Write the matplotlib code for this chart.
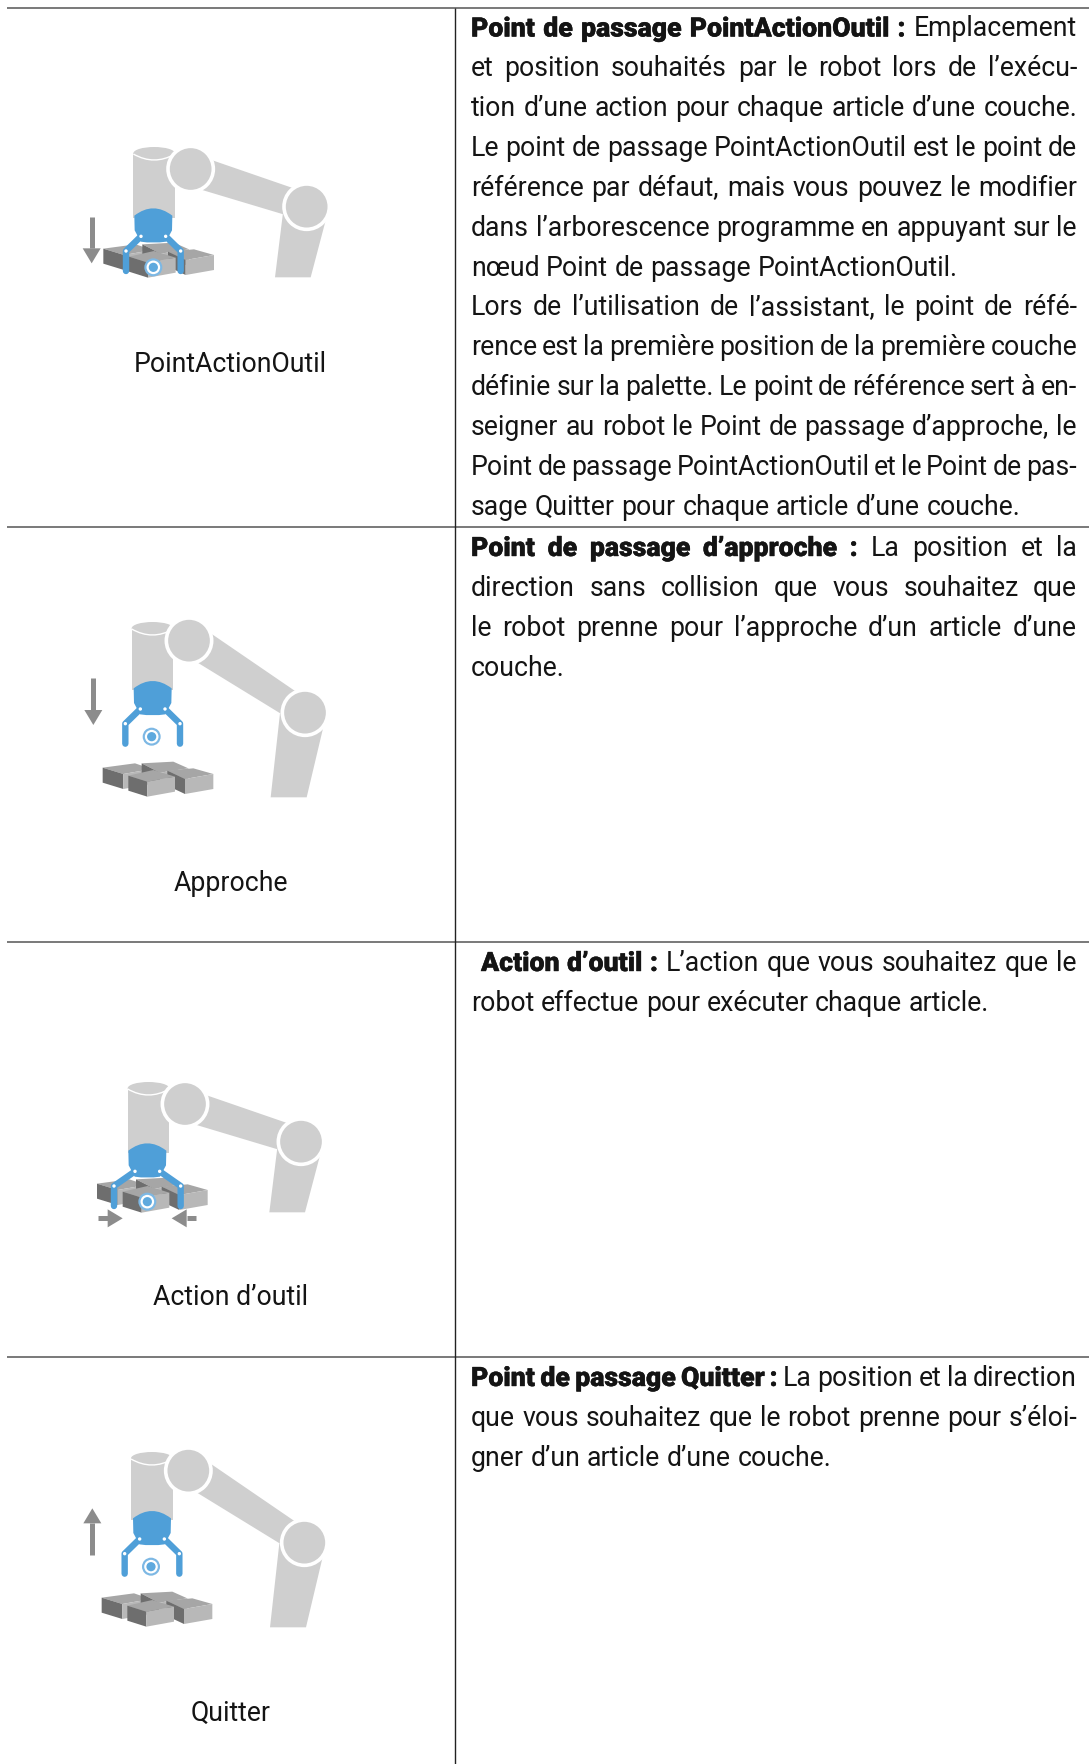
import matplotlib
matplotlib.use('Agg')
import matplotlib.pyplot as plt
import matplotlib.patheffects as pe
from matplotlib.patches import Polygon, Circle, Ellipse, PathPatch
from matplotlib.path import Path

W, H = 1089, 1764
FONT = 'Roboto'
FSIZE = 19.2
LINE_PITCH = 39.85
TEXT_LEFT = 471
TEXT_RIGHT = 1077

# horizontal rules of the table and the column divider
row_tops = [7.5, 527, 942, 1357]
rule_start = 7
col_x = 455.3

labels = ['PointActionOutil', 'Approche', 'Action d\u2019outil', 'Quitter']
label_y = [372, 891, 1305, 1721]

# (bold part, normal part) per line, last line of a cell is not justified
row1_lines = [
    ('Point de passage PointActionOutil :', 'Emplacement'),
    ('', 'et position souhaités par le robot lors de l\u2019exécu-'),
    ('', 'tion d\u2019une action pour chaque article d\u2019une couche.'),
    ('', 'Le point de passage PointActionOutil est le point de'),
    ('', 'référence par défaut, mais vous pouvez le modifier'),
    ('', 'dans l\u2019arborescence programme en appuyant sur le'),
    ('', 'nœud Point de passage PointActionOutil.'),
    ('', 'Lors de l\u2019utilisation de l\u2019assistant, le point de réfé-'),
    ('', 'rence est la première position de la première couche'),
    ('', 'définie sur la palette. Le point de référence sert à en-'),
    ('', 'seigner au robot le Point de passage d\u2019approche, le'),
    ('', 'Point de passage PointActionOutil et le Point de pas-'),
    ('', 'sage Quitter pour chaque article d\u2019une couche.'),
]
row1_not_justified = [6, 12]
row2_lines = [
    ('Point de passage d\u2019approche :', 'La position et la'),
    ('', 'direction sans collision que vous souhaitez que'),
    ('', 'le robot prenne pour l\u2019approche d\u2019un article d\u2019une'),
    ('', 'couche.'),
]
row2_not_justified = [3]
row3_lines = [
    ('Action d\u2019outil :', 'L\u2019action que vous souhaitez que le'),
    ('', 'robot effectue pour exécuter chaque article.'),
]
row3_not_justified = [1]
row4_lines = [
    ('Point de passage Quitter :', 'La position et la direction'),
    ('', 'que vous souhaitez que le robot prenne pour s\u2019éloi-'),
    ('', 'gner d\u2019un article d\u2019une couche.'),
]
row4_not_justified = [2]

# icon outlines, in px*3 relative to each icon's origin
pose_down = dict(
    tower=(220, 345, 100, 295), shoulder=(392, 147), elbow=(740, 260),
    arm=[(440, 115), (730, 215), (700, 292), (410, 205)],
    fore=[(670, 270), (800, 290), (752, 472), (645, 472)],
)
pose_up = dict(
    tower=(215, 340, 85, 270), shoulder=(387, 122), elbow=(735, 338),
    arm=[(445, 95), (730, 290), (690, 358), (400, 180)],
    fore=[(660, 340), (795, 360), (740, 592), (632, 592)],
)
box_quads = [
    # left, back, right, front corners of the top face, height
    ([(128, 503), (225, 490), (275, 507), (190, 522)], 45),
    ([(245, 490), (340, 485), (385, 505), (300, 518)], 45),
    ([(322, 512), (400, 505), (460, 522), (375, 537)], 45),
    ([(205, 527), (280, 510), (345, 530), (262, 545)], 45),
]

GREY = '#cfcfcf'
BLUE = '#4f9fd8'
ARROW = '#8c8c8c'
TXT = '#141414'

plt.rcParams['font.family'] = [FONT, 'DejaVu Sans']
fig = plt.figure(figsize=(W / 100, H / 100), dpi=100)
ax = fig.add_axes([0, 0, 1, 1])
ax.set_xlim(0, W)
ax.set_ylim(H, 0)
ax.axis('off')

for y in row_tops:
    ax.plot([rule_start, W], [y, y], color='#555555', lw=1.1, solid_capstyle='butt')
ax.plot([col_x, col_x], [row_tops[0], H], color='#222222', lw=1.0, solid_capstyle='butt')


def justified_line(y, bold, normal, justify, x0=TEXT_LEFT):
    words = [(w, 'black') for w in bold.split()] + [(w, 'normal') for w in normal.split()]
    rend = fig.canvas.get_renderer()
    items = []
    total = 0
    for w, weight in words:
        t = ax.text(0, y, w, fontsize=FSIZE, fontweight=weight, color=TXT, va='baseline', ha='left')
        if weight == 'black':
            # the installed Roboto stops at Bold, thicken it a little
            t.set_path_effects([pe.withStroke(linewidth=0.3, foreground=TXT)])
        wd = t.get_window_extent(rend).width
        items.append((t, wd))
        total += wd
    gap = 6.6
    if justify and len(items) > 1:
        gap = (TEXT_RIGHT - x0 - total) / (len(items) - 1)
    x = x0
    for t, wd in items:
        t.set_x(x)
        x += wd + gap


def draw_cell(top, lines, not_just, x0=TEXT_LEFT):
    for i, (b, n) in enumerate(lines):
        y = top + 29 + i * LINE_PITCH
        justified_line(y, b, n, i not in not_just, x0 if i == 0 else TEXT_LEFT)


draw_cell(row_tops[0], row1_lines, row1_not_justified)
draw_cell(row_tops[1], row2_lines, row2_not_justified)
draw_cell(row_tops[2], row3_lines, row3_not_justified, x0=481)
draw_cell(row_tops[3], row4_lines, row4_not_justified)

for lab, y in zip(labels, label_y):
    ax.text(230.5, y, lab, fontsize=FSIZE, color=TXT, ha='center', va='baseline')


def draw_robot(ox, oy, pose, dx, dy):
    P = lambda x, y: (ox + (x + dx) / 3, oy + (y + dy) / 3)
    l, r, t, b = pose['tower']
    ax.add_patch(Polygon([P(l, t), P(r, t), P(r, b), P(l, b)], fc=GREY, ec='none', zorder=2))
    cx, cy = P((l + r) / 2, t)
    ax.add_patch(Ellipse((cx, cy), (r - l) / 3, 38 / 3, fc=GREY, ec='none', zorder=2))
    # lip of the tower
    ax.add_patch(PathPatch(Path([P(l, t + 2), P((l + r) / 2, t + 38), P(r, t + 2)],
                                [Path.MOVETO, Path.CURVE3, Path.CURVE3]),
                           fc='none', ec='white', lw=1.0, zorder=2.1))
    ax.add_patch(Polygon([P(*p) for p in pose['arm']], fc=GREY, ec='none', zorder=2))
    ax.add_patch(Polygon([P(*p) for p in pose['fore']], fc=GREY, ec='none', zorder=2))
    for c in (pose['shoulder'], pose['elbow']):
        ax.add_patch(Circle(P(*c), 68 / 3, fc=GREY, ec='white', lw=2.6, zorder=3))


def draw_boxes(ox, oy, dx, dy):
    P = lambda x, y: (ox + (x + dx) / 3, oy + (y + dy) / 3)
    for quad, h in box_quads:
        lf, bk, rt, fr = quad
        low = lambda q: (q[0], q[1] + h)
        ax.add_patch(Polygon([P(*q) for q in quad], fc='#a6a6a6', ec='none', zorder=4))
        ax.add_patch(Polygon([P(*lf), P(*fr), P(*low(fr)), P(*low(lf))], fc='#6e6e6e', ec='none', zorder=4))
        ax.add_patch(Polygon([P(*fr), P(*rt), P(*low(rt)), P(*low(fr))], fc='#b8b8b8', ec='none', zorder=4))


def draw_gripper(ox, oy, cx, top, spread, tcp):
    P = lambda x, y: (ox + x / 3, oy + y / 3)
    verts = [P(cx - 57, top + 22), P(cx, top - 22), P(cx + 57, top + 22),
             P(cx + 56, top + 66), P(cx + 38, top + 100), P(cx, top + 106),
             P(cx - 38, top + 100), P(cx - 56, top + 66), P(cx - 57, top + 22)]
    codes = [Path.MOVETO, Path.CURVE3, Path.CURVE3, Path.LINETO, Path.LINETO,
             Path.CURVE3, Path.CURVE3, Path.LINETO, Path.CLOSEPOLY]
    ax.add_patch(PathPatch(Path(verts, codes), fc=BLUE, ec='none', zorder=5))
    for sign in (-1, 1):
        knee = P(cx + sign * spread, top + 128)
        start = P(cx + sign * 37, top + 84)
        end = P(cx + sign * spread, top + 188)
        ax.plot([start[0], knee[0], end[0]], [start[1], knee[1], end[1]], color=BLUE, lw=4.6,
                solid_capstyle='round', solid_joinstyle='round', zorder=5)
        for p in (start, knee):
            ax.add_patch(Circle(p, 1.7, fc='white', ec='none', zorder=6))
    c = P(*tcp)
    ax.add_patch(Circle(c, 9.0, fc='#7db8e4', ec='none', zorder=5))
    ax.add_patch(Circle(c, 6.8, fc='white', ec='none', zorder=5))
    ax.add_patch(Circle(c, 4.6, fc='#5ea9de', ec='none', zorder=5))


def draw_arrow(ox, oy, tail, tip, head_len=45, head_w=27):
    P = lambda x, y: (ox + x / 3, oy + y / 3)
    tx, ty = tail
    hx, hy = tip
    dirx = (hx > tx) - (hx < tx)
    diry = (hy > ty) - (hy < ty)
    bx, by = hx - dirx * head_len, hy - diry * head_len
    a, b = P(tx, ty), P(bx, by)
    ax.plot([a[0], b[0]], [a[1], b[1]], color=ARROW, lw=3.6, solid_capstyle='butt', zorder=6)
    ax.add_patch(Polygon([P(hx, hy), P(bx - diry * head_w, by + dirx * head_w),
                          P(bx + diry * head_w, by - dirx * head_w)], fc=ARROW, ec='none', zorder=6))


# PointActionOutil
draw_robot(60, 120, pose_down, 0, 0)
draw_boxes(60, 120, 2, -117)
draw_gripper(60, 120, 280, 265, 82, (280, 442))
draw_arrow(60, 120, (95, 290), (95, 430))
# Approche
draw_robot(60, 600, pose_up, 0, 0)
draw_boxes(60, 600, 0, 0)
draw_gripper(60, 600, 278, 243, 82, (275, 410))
draw_arrow(60, 600, (100, 235), (100, 375))
# Action d'outil
draw_robot(60, 1060, pose_down, -17, -15)
draw_boxes(60, 1060, -17, -132)
draw_gripper(60, 1060, 262, 250, 100, (262, 425))
draw_arrow(60, 1060, (115, 475), (188, 475))
draw_arrow(60, 1060, (408, 475), (335, 475))
# Quitter
draw_robot(60, 1430, pose_up, -2, 0)
draw_boxes(60, 1430, -3, 0)
draw_gripper(60, 1430, 276, 243, 82, (273, 410))
draw_arrow(60, 1430, (97, 375), (97, 235))

fig.savefig('out.png', dpi=100)
